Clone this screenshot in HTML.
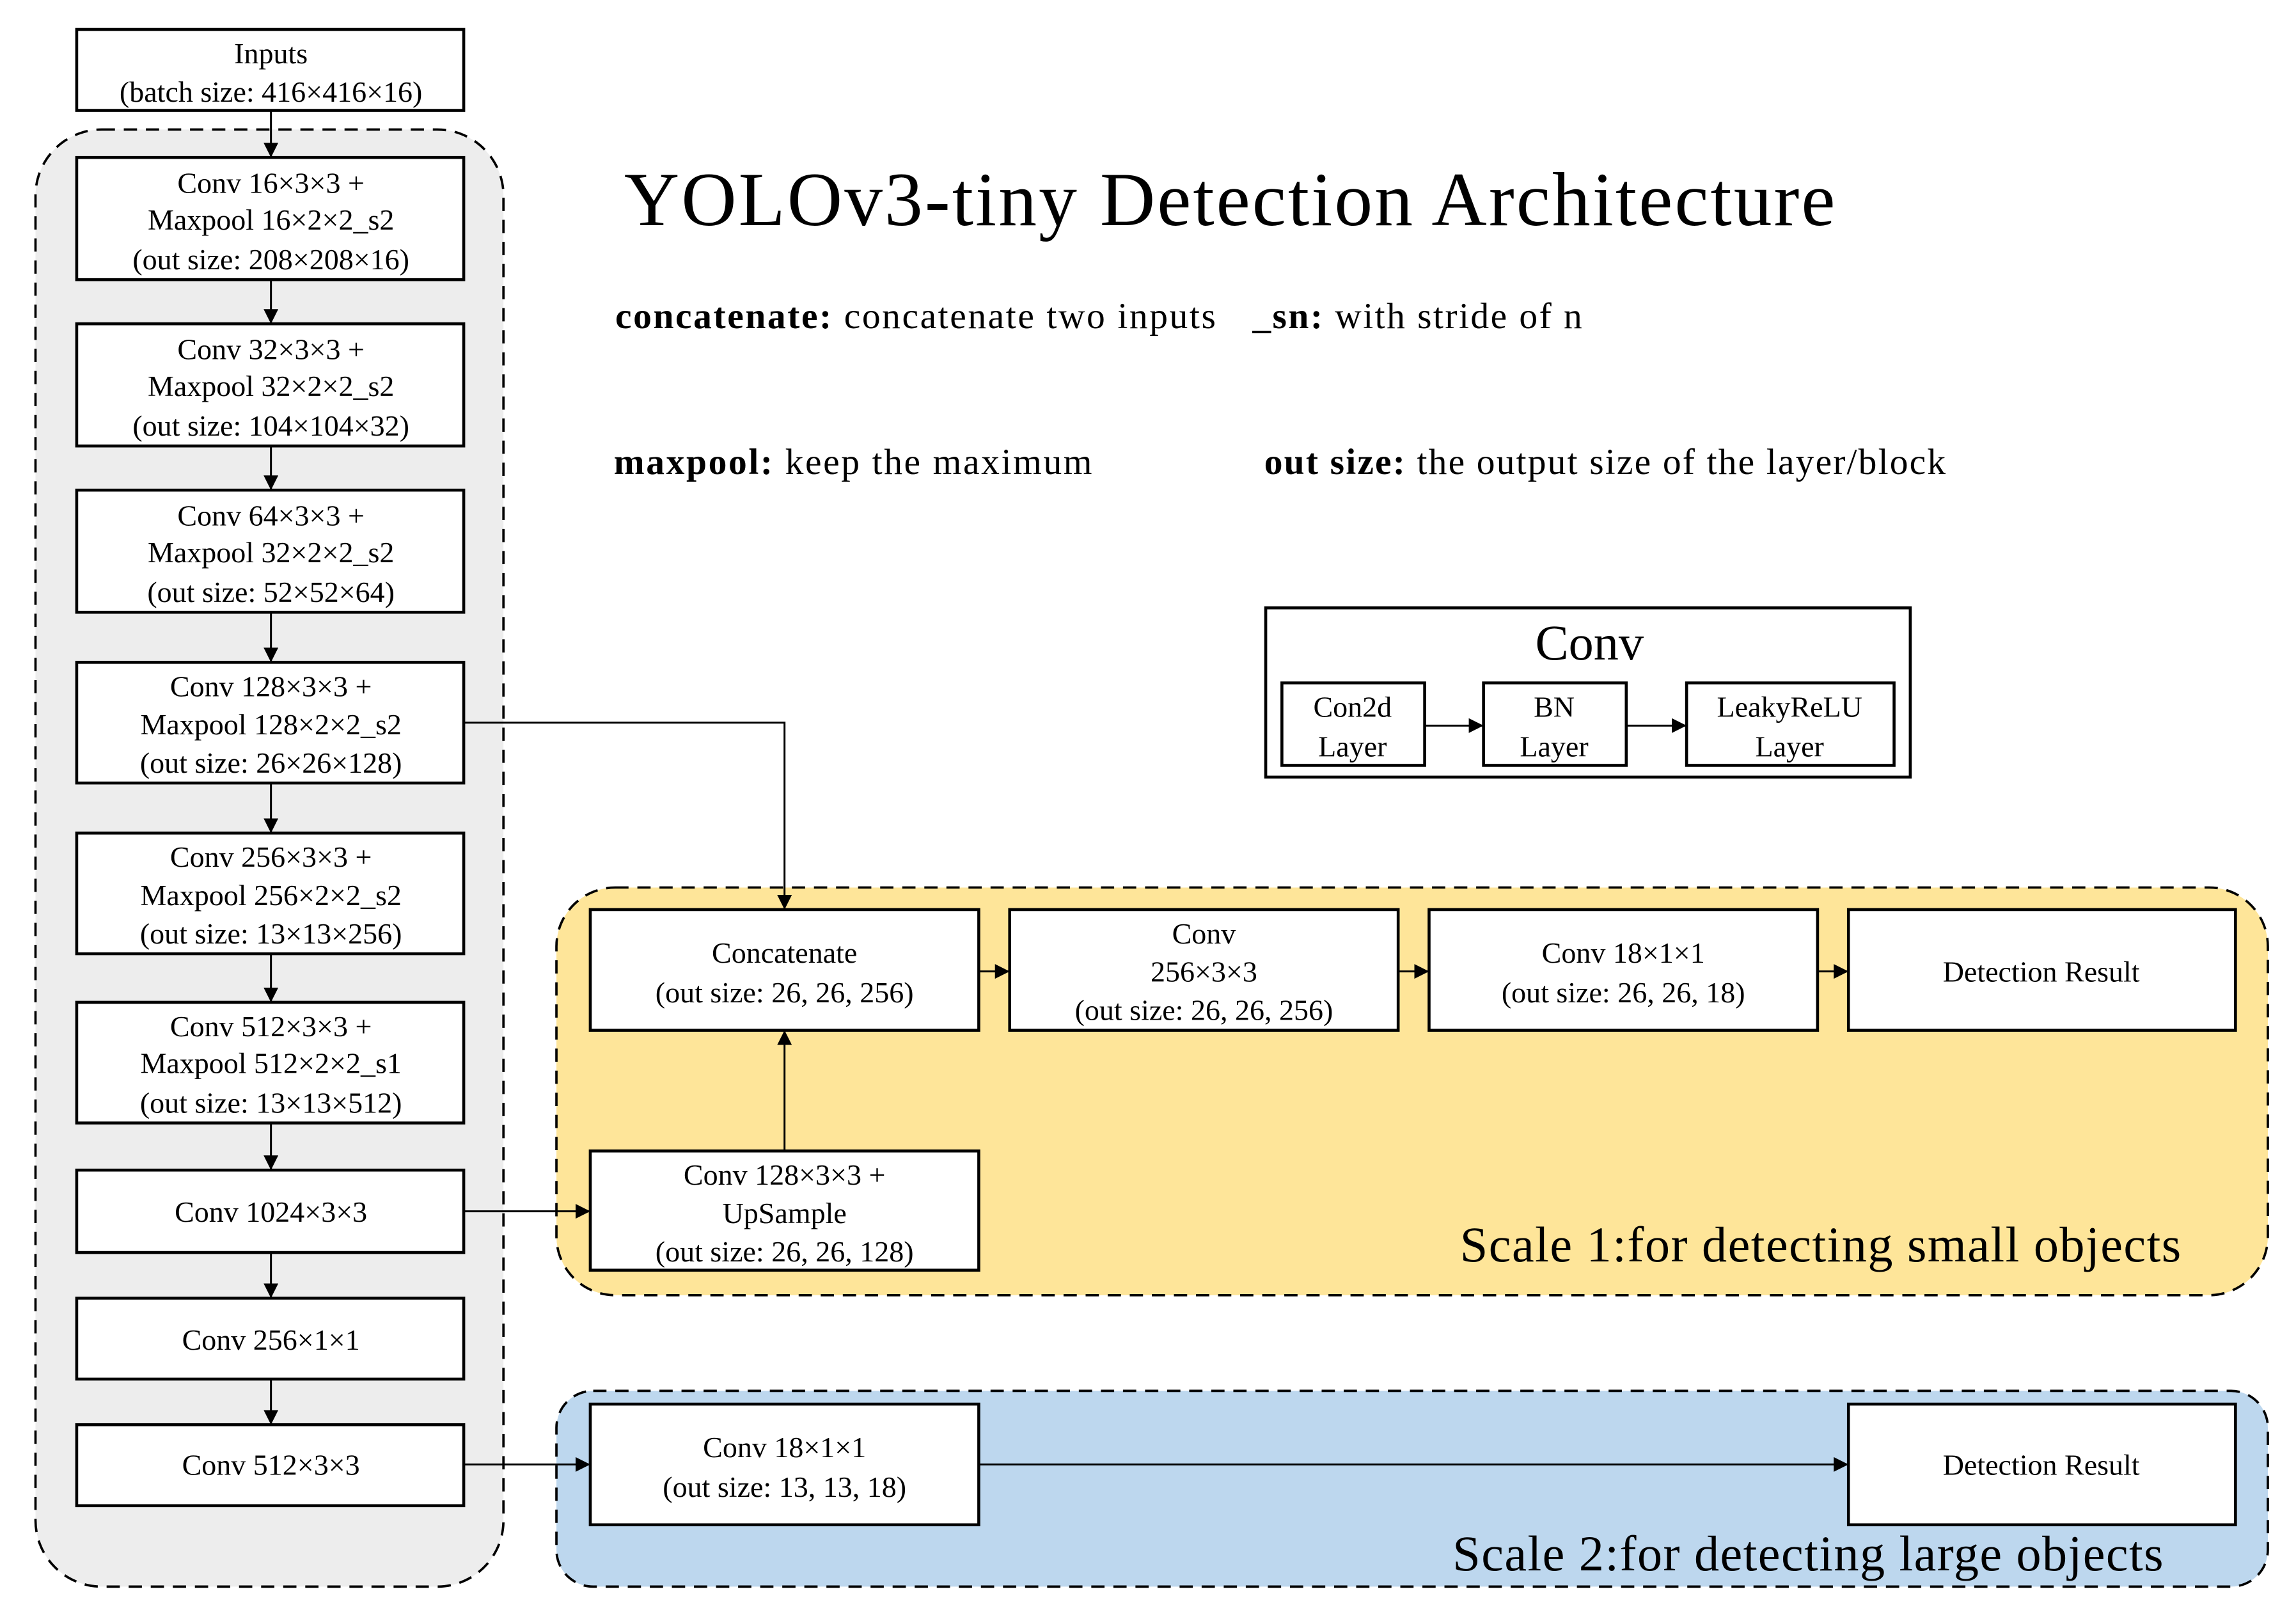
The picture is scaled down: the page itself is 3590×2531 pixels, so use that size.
<!DOCTYPE html>
<html><head><meta charset="utf-8"><style>
html,body{margin:0;padding:0;background:#fff;}
svg{display:block;}
text{font-family:"Liberation Serif",serif;fill:#000;}
</style></head><body>
<svg width="3590" height="2531" viewBox="0 0 1560 1100" xmlns="http://www.w3.org/2000/svg">
<defs>
<marker id="a" viewBox="0 0 10 10" refX="10" refY="5" markerWidth="10" markerHeight="10" markerUnits="userSpaceOnUse" orient="auto"><path d="M0,0 L10,5 L0,10 z" fill="#000"/></marker>
</defs>
<rect x="0" y="0" width="1560" height="1100" fill="#fff"/>
<rect x="24" y="88" width="318" height="990" rx="45" fill="#ededed" stroke="#000" stroke-width="1.6" stroke-dasharray="9,6"/>
<rect x="378" y="603" width="1163" height="277" rx="40" fill="#fee599" stroke="#000" stroke-width="1.6" stroke-dasharray="9,6"/>
<rect x="378" y="945" width="1163" height="133" rx="25" fill="#bdd7ee" stroke="#000" stroke-width="1.6" stroke-dasharray="9,6"/>

<g fill="#fff" stroke="#000" stroke-width="2">
<rect x="52" y="20" width="263" height="55"/>
<rect x="52" y="107" width="263" height="83"/>
<rect x="52" y="220" width="263" height="83"/>
<rect x="52" y="333" width="263" height="83"/>
<rect x="52" y="450" width="263" height="82"/>
<rect x="52" y="566" width="263" height="82"/>
<rect x="52" y="681" width="263" height="82"/>
<rect x="52" y="795" width="263" height="56"/>
<rect x="52" y="882" width="263" height="55"/>
<rect x="52" y="968" width="263" height="55"/>
<rect x="860" y="413" width="438" height="115"/>
<rect x="871" y="464" width="97" height="56"/>
<rect x="1008" y="464" width="97" height="56"/>
<rect x="1146" y="464" width="141" height="56"/>
<rect x="401" y="618" width="264" height="82"/>
<rect x="686" y="618" width="264" height="82"/>
<rect x="971" y="618" width="264" height="82"/>
<rect x="1256" y="618" width="263" height="82"/>
<rect x="401" y="782" width="264" height="81"/>
<rect x="401" y="954" width="264" height="82"/>
<rect x="1256" y="954" width="263" height="82"/>
</g>

<g stroke="#000" stroke-width="1.3" fill="none" marker-end="url(#a)">
<line x1="184" y1="75" x2="184" y2="107"/>
<line x1="184" y1="190" x2="184" y2="220"/>
<line x1="184" y1="303" x2="184" y2="333"/>
<line x1="184" y1="416" x2="184" y2="450"/>
<line x1="184" y1="532" x2="184" y2="566"/>
<line x1="184" y1="648" x2="184" y2="681"/>
<line x1="184" y1="763" x2="184" y2="795"/>
<line x1="184" y1="851" x2="184" y2="882"/>
<line x1="184" y1="937" x2="184" y2="968"/>
<line x1="968" y1="493" x2="1008" y2="493"/>
<line x1="1105" y1="493" x2="1146" y2="493"/>
<polyline points="315,491 533,491 533,618"/>
<line x1="315" y1="823" x2="401" y2="823"/>
<line x1="533" y1="782" x2="533" y2="700"/>
<line x1="665" y1="660" x2="686" y2="660"/>
<line x1="950" y1="660" x2="971" y2="660"/>
<line x1="1235" y1="660" x2="1256" y2="660"/>
<line x1="315" y1="995" x2="401" y2="995"/>
<line x1="665" y1="995" x2="1256" y2="995"/>
</g>

<g font-size="20" text-anchor="middle">
<text x="184" y="43">Inputs</text>
<text x="184" y="69">(batch size: 416×416×16)</text>
<text x="184" y="131">Conv 16×3×3 +</text>
<text x="184" y="156">Maxpool 16×2×2_s2</text>
<text x="184" y="183">(out size: 208×208×16)</text>
<text x="184" y="244">Conv 32×3×3 +</text>
<text x="184" y="269">Maxpool 32×2×2_s2</text>
<text x="184" y="296">(out size: 104×104×32)</text>
<text x="184" y="357">Conv 64×3×3 +</text>
<text x="184" y="382">Maxpool 32×2×2_s2</text>
<text x="184" y="409">(out size: 52×52×64)</text>
<text x="184" y="473">Conv 128×3×3 +</text>
<text x="184" y="499">Maxpool 128×2×2_s2</text>
<text x="184" y="525">(out size: 26×26×128)</text>
<text x="184" y="589">Conv 256×3×3 +</text>
<text x="184" y="615">Maxpool 256×2×2_s2</text>
<text x="184" y="641">(out size: 13×13×256)</text>
<text x="184" y="704">Conv 512×3×3 +</text>
<text x="184" y="729">Maxpool 512×2×2_s1</text>
<text x="184" y="756">(out size: 13×13×512)</text>
<text x="184" y="830">Conv 1024×3×3</text>
<text x="184" y="917">Conv 256×1×1</text>
<text x="184" y="1002">Conv 512×3×3</text>
<text x="919" y="487">Con2d</text>
<text x="919" y="514">Layer</text>
<text x="1056" y="487">BN</text>
<text x="1056" y="514">Layer</text>
<text x="1216" y="487">LeakyReLU</text>
<text x="1216" y="514">Layer</text>
<text x="533" y="654">Concatenate</text>
<text x="533" y="681">(out size: 26, 26, 256)</text>
<text x="818" y="641">Conv</text>
<text x="818" y="667">256×3×3</text>
<text x="818" y="693">(out size: 26, 26, 256)</text>
<text x="1103" y="654">Conv 18×1×1</text>
<text x="1103" y="681">(out size: 26, 26, 18)</text>
<text x="1387" y="667">Detection Result</text>
<text x="533" y="805">Conv 128×3×3 +</text>
<text x="533" y="831">UpSample</text>
<text x="533" y="857">(out size: 26, 26, 128)</text>
<text x="533" y="990">Conv 18×1×1</text>
<text x="533" y="1017">(out size: 13, 13, 18)</text>
<text x="1387" y="1002">Detection Result</text>
</g>
<text x="1080" y="448" font-size="34" text-anchor="middle">Conv</text>
<text x="424" y="153" font-size="52" textLength="823" lengthAdjust="spacing">YOLOv3-tiny Detection Architecture</text>
<g font-size="25">
<text x="418" y="223" textLength="408" lengthAdjust="spacing"><tspan font-weight="bold">concatenate:</tspan> concatenate  two inputs</text>
<text x="851" y="223" textLength="224" lengthAdjust="spacing"><tspan font-weight="bold">_sn:</tspan> with stride of n</text>
<text x="417" y="322" textLength="325" lengthAdjust="spacing"><tspan font-weight="bold">maxpool:</tspan> keep the maximum</text>
<text x="859" y="322" textLength="463" lengthAdjust="spacing"><tspan font-weight="bold">out size:</tspan> the output size of the layer/block</text>
</g>
<text x="992" y="857" font-size="34" textLength="490" lengthAdjust="spacing">Scale 1:for detecting small objects</text>
<text x="987" y="1067" font-size="34" textLength="483" lengthAdjust="spacing">Scale 2:for detecting large objects</text>
</svg>
</body></html>
